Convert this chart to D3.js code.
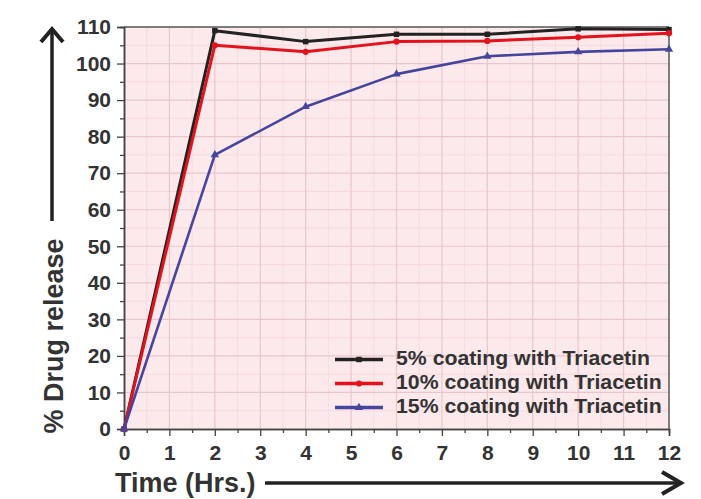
<!DOCTYPE html>
<html><head><meta charset="utf-8">
<script src="https://cdn.jsdelivr.net/npm/d3@7"></script>
<style>body{margin:0;background:#fff}svg{display:block;font-family:"Liberation Sans",Arial,sans-serif}</style>
</head><body><svg id="c" width="701" height="499"></svg>
<script>
const times = [0, 2, 4, 6, 8, 10, 12];
const s5 = [0, 109, 106, 108, 108, 109.5, 109.3];
const s10 = [0, 105, 103.2, 106, 106.2, 107.2, 108.3];
const s15 = [0, 75, 88.2, 97.1, 102, 103.2, 103.9];
const seriesNames = ["5% coating with Triacetin", "10% coating with Triacetin", "15% coating with Triacetin"];
const seriesColors = ["#222222", "#e3121c", "#45459e"];
const seriesMarkers = ["square", "circle", "triangle"];
const xTicks = [0,1,2,3,4,5,6,7,8,9,10,11,12];
const yTicks = [0,10,20,30,40,50,60,70,80,90,100,110];
const xLabel = "Time (Hrs.)";
const yLabel = "% Drug release";

const svg = d3.select("#c");
const L = 124, R = 669, T = 27, B = 429;
const x = d3.scaleLinear().domain([0, 12]).range([L, R]);
const y = d3.scaleLinear().domain([0, 110]).range([B, T]);

// background
svg.append("rect").attr("x", L).attr("y", T).attr("width", R - L).attr("height", B - T).attr("fill", "#fce9eb");
// minor grid
const g = svg.append("g");
d3.range(0.5, 12, 1).forEach(v => g.append("line").attr("x1", x(v)).attr("x2", x(v)).attr("y1", T).attr("y2", B).attr("stroke", "#f6dade").attr("stroke-width", 1));
d3.range(5, 110, 10).forEach(v => g.append("line").attr("y1", y(v)).attr("y2", y(v)).attr("x1", L).attr("x2", R).attr("stroke", "#f6dade").attr("stroke-width", 1));
// major grid
xTicks.slice(1, -1).forEach(v => g.append("line").attr("x1", x(v)).attr("x2", x(v)).attr("y1", T).attr("y2", B).attr("stroke", "#e9c6cc").attr("stroke-width", 1.2));
yTicks.slice(1, -1).forEach(v => g.append("line").attr("y1", y(v)).attr("y2", y(v)).attr("x1", L).attr("x2", R).attr("stroke", "#e9c6cc").attr("stroke-width", 1.2));

// frame top/right
svg.append("line").attr("x1", L).attr("x2", R).attr("y1", T).attr("y2", T).attr("stroke", "#555").attr("stroke-width", 1.5);
svg.append("line").attr("x1", R).attr("x2", R).attr("y1", T).attr("y2", B).attr("stroke", "#555").attr("stroke-width", 1.5);

// axes
const xAxis = svg.append("g").attr("transform", `translate(0,${B})`)
  .call(d3.axisBottom(x).tickValues(xTicks).tickFormat(d3.format("d")).tickSize(7).tickPadding(9));
const xMinor = svg.append("g").attr("transform", `translate(0,${B})`)
  .call(d3.axisBottom(x).tickValues(d3.range(0.5, 12, 1)).tickFormat("").tickSize(4));
const yAxis = svg.append("g").attr("transform", `translate(${L},0)`)
  .call(d3.axisLeft(y).tickValues(yTicks).tickFormat(d3.format("d")).tickSize(7).tickPadding(6));
const yMinor = svg.append("g").attr("transform", `translate(${L},0)`)
  .call(d3.axisLeft(y).tickValues(d3.range(5, 110, 10)).tickFormat("").tickSize(4));
[xAxis, xMinor, yAxis, yMinor].forEach(a => {
  a.select(".domain").attr("stroke", "#444").attr("stroke-width", 1.5);
  a.selectAll(".tick line").attr("stroke", "#444").attr("stroke-width", 1.3);
  a.selectAll("text").attr("font-size", 21).attr("font-weight", "bold").attr("fill", "#333")
    .attr("font-family", '"Liberation Sans",Arial,sans-serif');
});

// series
const allSeries = [s5, s10, s15];
const line = d3.line().x(d => x(d[0])).y(d => y(d[1]));
const symType = {square: d3.symbolSquare, circle: d3.symbolCircle, triangle: d3.symbolTriangle};
allSeries.forEach((s, i) => {
  const pts = times.map((t, j) => [t, s[j]]);
  svg.append("path").datum(pts).attr("d", line).attr("fill", "none")
    .attr("stroke", seriesColors[i]).attr("stroke-width", i === 2 ? 2.6 : 3).attr("stroke-linejoin", "round");
  svg.selectAll(null).data(pts).enter().append("path")
    .attr("transform", d => `translate(${x(d[0])},${y(d[1])})`)
    .attr("d", d3.symbol().type(symType[seriesMarkers[i]]).size(30))
    .attr("fill", seriesColors[i]);
});

// legend
const lg = svg.append("g");
seriesNames.forEach((n, i) => {
  const ly = 359.5 + i * 24;
  lg.append("line").attr("x1", 335).attr("x2", 383).attr("y1", ly).attr("y2", ly)
    .attr("stroke", seriesColors[i]).attr("stroke-width", 3.5);
  lg.append("path").attr("transform", `translate(359,${ly})`)
    .attr("d", d3.symbol().type(symType[seriesMarkers[i]]).size(30)).attr("fill", seriesColors[i]);
  const t = lg.append("text").attr("x", 396).attr("y", ly + 5).text(n)
    .attr("font-size", 19.5).attr("font-weight", "bold").attr("fill", "#333");
  const w = t.node().getComputedTextLength();
  t.attr("textLength", w * 1.09).attr("lengthAdjust", "spacingAndGlyphs");
});

// y label with arrow
svg.append("text").attr("transform", "translate(63,336) rotate(-90)").attr("text-anchor", "middle")
  .attr("font-size", 27).attr("font-weight", "bold").attr("fill", "#333").text(yLabel);
svg.append("line").attr("x1", 52).attr("x2", 52).attr("y1", 221).attr("y2", 30).attr("stroke", "#222").attr("stroke-width", 3.5);
svg.append("path").attr("d", "M41,42 L52,29 L63,42").attr("fill", "none").attr("stroke", "#222").attr("stroke-width", 4);

// x label with arrow
svg.append("text").attr("x", 115).attr("y", 492).attr("font-size", 27).attr("font-weight", "bold").attr("fill", "#333").text(xLabel);
svg.append("line").attr("x1", 265).attr("x2", 680).attr("y1", 483).attr("y2", 483).attr("stroke", "#222").attr("stroke-width", 3.5);
svg.append("path").attr("d", "M662,472 L681,483 L662,494").attr("fill", "none").attr("stroke", "#222").attr("stroke-width", 4);
</script></body></html>
